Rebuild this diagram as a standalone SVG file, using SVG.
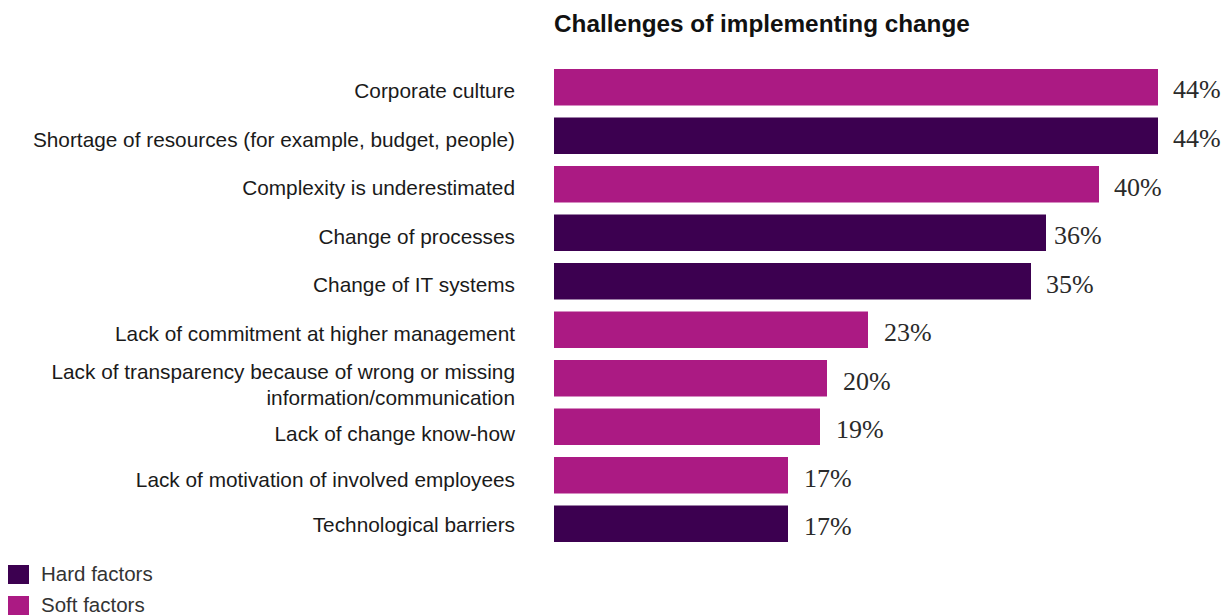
<svg xmlns="http://www.w3.org/2000/svg" width="1228" height="615" viewBox="0 0 1228 615">
<style>
.title{font-family:"Liberation Sans",Arial,sans-serif;font-weight:bold;font-size:24.3px;fill:#111}
.cat{font-family:"Liberation Sans",Arial,sans-serif;font-size:20.8px;fill:#1a1a1a;text-anchor:end}
.val{font-family:"Liberation Serif","Times New Roman",serif;font-size:26px;fill:#2a2a2a}
.leg{font-family:"Liberation Sans",Arial,sans-serif;font-size:20.5px;fill:#333}
.soft{fill:#AB1A83}
.hard{fill:#3C0050}
</style>
<rect width="1228" height="615" fill="#fff"/>
<text class="title" x="554" y="32">Challenges of implementing change</text>
<g id="connectors"></g>
<g id="bar1"><text class="cat" x="515" y="98">Corporate culture</text><rect class="soft" x="554" y="69" width="604" height="36.5"/><text class="val" x="1173" y="98">44%</text></g>
<g id="bar2"><text class="cat" x="515" y="147">Shortage of resources (for example, budget, people)</text><rect class="hard" x="554" y="117.5" width="604" height="36.5"/><text class="val" x="1173" y="147">44%</text></g>
<g id="bar3"><text class="cat" x="515" y="195">Complexity is underestimated</text><rect class="soft" x="554" y="166" width="545" height="36.5"/><text class="val" x="1114" y="196">40%</text></g>
<g id="bar4"><text class="cat" x="515" y="244">Change of processes</text><rect class="hard" x="554" y="214.5" width="492" height="36.5"/><text class="val" x="1054" y="244">36%</text></g>
<g id="bar5"><text class="cat" x="515" y="292">Change of IT systems</text><rect class="hard" x="554" y="263" width="477" height="36.5"/><text class="val" x="1046" y="293">35%</text></g>
<g id="bar6"><text class="cat" x="515" y="341">Lack of commitment at higher management</text><rect class="soft" x="554" y="311.5" width="314" height="36.5"/><text class="val" x="884" y="341">23%</text></g>
<g id="bar7"><text class="cat" x="515" y="379">Lack of transparency because of wrong or missing</text><text class="cat" x="515" y="405">information/communication</text><rect class="soft" x="554" y="360" width="273" height="36.5"/><text class="val" x="843" y="390">20%</text></g>
<g id="bar8"><text class="cat" x="515" y="441">Lack of change know-how</text><rect class="soft" x="554" y="408.5" width="266" height="36.5"/><text class="val" x="836" y="438">19%</text></g>
<g id="bar9"><text class="cat" x="515" y="487">Lack of motivation of involved employees</text><rect class="soft" x="554" y="457" width="234" height="36.5"/><text class="val" x="804" y="487">17%</text></g>
<g id="bar10"><text class="cat" x="515" y="532">Technological barriers</text><rect class="hard" x="554" y="505.5" width="234" height="36.5"/><text class="val" x="804" y="535">17%</text></g>
<g id="legend-hard"><rect class="hard" x="8" y="565" width="21" height="19"/><text class="leg" x="41" y="581">Hard factors</text></g>
<g id="legend-soft"><rect class="soft" x="8" y="596" width="21" height="19"/><text class="leg" x="41" y="612">Soft factors</text></g>
</svg>
